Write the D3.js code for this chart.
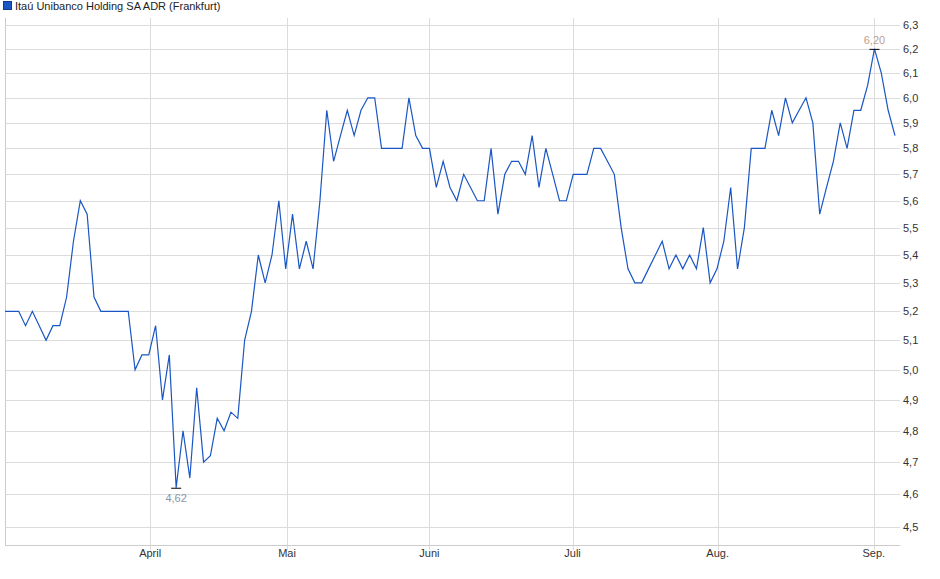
<!DOCTYPE html>
<html><head><meta charset="utf-8">
<script src="https://cdn.jsdelivr.net/npm/d3@7"></script>
<style>body{margin:0;background:#fff}text{font-family:"Liberation Sans",Arial,sans-serif}</style>
</head><body><svg id="c" width="940" height="579"></svg>
<script>
// Kurse (Handelstage)
const prices = [5.2,5.2,5.2,5.15,5.2,5.15,5.1,5.15,5.15,5.25,5.45,5.6,5.55,5.25,5.2,5.2,5.2,5.2,5.2,5.0,
5.05,5.05,5.15,4.9,5.05,4.62,4.8,4.65,4.94,4.7,4.72,4.84,4.8,4.86,4.84,5.1,5.2,5.4,5.3,5.4,
5.6,5.35,5.55,5.35,5.45,5.35,5.6,5.95,5.75,5.85,5.95,5.85,5.95,6.0,6.0,5.8,5.8,5.8,5.8,6.0,
5.85,5.8,5.8,5.65,5.75,5.65,5.6,5.7,5.65,5.6,5.6,5.8,5.55,5.7,5.75,5.75,5.7,5.85,5.65,5.8,
5.7,5.6,5.6,5.7,5.7,5.7,5.8,5.8,5.75,5.7,5.5,5.35,5.3,5.3,5.35,5.4,5.45,5.35,5.4,5.35,
5.4,5.35,5.5,5.3,5.35,5.45,5.65,5.35,5.5,5.8,5.8,5.8,5.95,5.85,6.0,5.9,5.95,6.0,5.9,5.55,
5.65,5.75,5.9,5.8,5.95,5.95,6.05,6.2,6.1,5.95,5.85]
const monthLabels = ["April","Mai","Juni","Juli","Aug.","Sep."]
const monthIdx = [21.2,41.2,62.0,82.9,104.1,126.9]
const yTicks = d3.range(45,64).map(d=>d/10)

var svg = d3.select("#c")
var x = d3.scaleLinear().domain([0,prices.length-1]).range([5,895])
var y = d3.scaleLog().domain([4.5,6.3]).range([527,25])
var fmt = v => d3.format(".1f")(v).replace(".",",")

// gitter
svg.selectAll(".hg").data(yTicks).enter().append("line")
  .attr("x1",5).attr("x2",900).attr("y1",d=>Math.round(y(d))+0.5).attr("y2",d=>Math.round(y(d))+0.5)
  .attr("stroke","#dcdcdc")
svg.selectAll(".vg").data(monthIdx).enter().append("line")
  .attr("x1",d=>Math.round(x(d))+0.5).attr("x2",d=>Math.round(x(d))+0.5)
  .attr("y1",18).attr("y2",550).attr("stroke","#dcdcdc")
svg.append("line").attr("x1",5.5).attr("x2",5.5).attr("y1",18).attr("y2",545).attr("stroke","#ccc")
svg.append("line").attr("x1",5).attr("x2",900).attr("y1",545.5).attr("y2",545.5).attr("stroke","#ccc")

svg.selectAll(".yl").data(yTicks).enter().append("text")
  .attr("x",903).attr("y",d=>y(d)+4).attr("font-size",11).attr("fill","#333").text(fmt)
svg.selectAll(".xl").data(monthIdx).enter().append("text")
  .attr("x",d=>x(d)).attr("y",557).attr("text-anchor","middle").attr("font-size",11).attr("fill","#333")
  .text((d,i)=>monthLabels[i])

svg.append("path").datum(prices)
  .attr("d",d3.line().x((d,i)=>x(i)).y(d=>y(d)))
  .attr("fill","none").attr("stroke","#1a56c4").attr("stroke-width",1.2)

// min / max
var iMin = d3.minIndex(prices), iMax = d3.maxIndex(prices)
;[[iMin,14],[iMax,-5]].forEach(function(p){
  var cx = x(p[0]), cy = y(prices[p[0]])
  svg.append("line").attr("x1",cx-5).attr("x2",cx+5).attr("y1",cy+0.5).attr("y2",cy+0.5).attr("stroke","#000")
  svg.append("text").attr("x",cx).attr("y",cy+p[1]).attr("text-anchor","middle")
    .attr("font-size",11).attr("fill", p[1]>0 ? "#8a94a6" : "#c0a08a").text(d3.format(".2f")(prices[p[0]]).replace(".",","))
})

// legende
svg.append("rect").attr("x",3.5).attr("y",1.5).attr("width",8).attr("height",8).attr("fill","#1a56c4").attr("stroke","#123a8a")
svg.append("text").attr("x",15).attr("y",10).attr("font-size",11).attr("fill","#222").text("Itaú Unibanco Holding SA ADR (Frankfurt)")
</script></body></html>
